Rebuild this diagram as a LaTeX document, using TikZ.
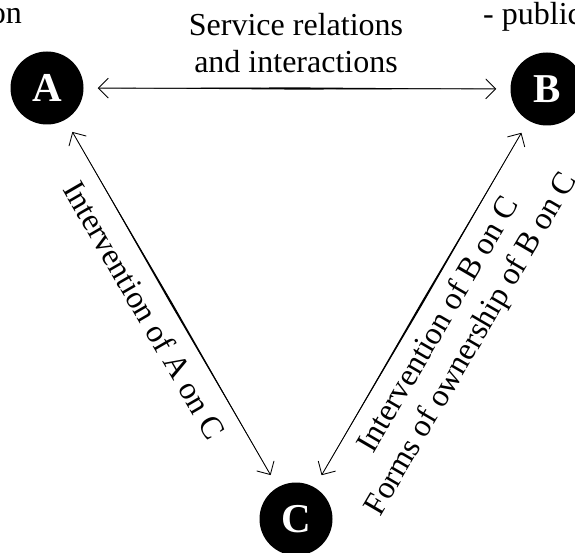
\documentclass[tikz,border=0pt]{standalone}
\usepackage{fontspec}
\setmainfont{Liberation Serif}
\usetikzlibrary{arrows.meta,calc}

% thin lens-shaped fill that thickens the middle of a connector
\newcommand\taperlink[2]{%
  \coordinate (#1#2m) at ($(#1)!0.5!(#2)$);
  \fill ($(#1)!56pt!(#2)$) -- ($(#1#2m)!1.1pt!90:(#2)$) --
        ($(#2)!56pt!(#1)$) -- ($(#1#2m)!1.1pt!-90:(#2)$) -- cycle;}

\begin{document}
\begin{tikzpicture}[x=1pt,y=1pt,
  party/.style={circle,fill=black,minimum size=73pt,inner sep=0pt,text=white,
    font=\fontsize{41}{41}\selectfont\bfseries},
  link/.style={line width=0.85pt,
    {Straight Barb[length=10pt,width=20pt]}-{Straight Barb[length=10pt,width=20pt]},
    shorten <=14pt,shorten >=14pt},
  lbl/.style={font=\fontsize{32}{37.5}\selectfont,inner sep=0pt,align=center}]
\useasboundingbox (0,0) rectangle (575,-553);
\clip (0,0) rectangle (575,-553);

% the three parties
\node[party] (A) at (47,-88) {A};
\node[party] (B) at (547,-89) {B};
\node[party] (C) at (296,-519) {C};

% relations between them
\draw[link] (A) -- (B);
\draw[link] (A) -- (C);
\draw[link] (B) -- (C);
\taperlink{A}{B}
\taperlink{A}{C}
\taperlink{B}{C}

% labels
\node[lbl,anchor=north] (ab) at (296,-13) {Service relations\\and interactions};
\node[lbl,rotate=-60] (ac) at (145,-310) {Intervention of A on C};
\node[lbl,rotate=59.7] (bc) at (456,-335)
  {Intervention of B on C\\Forms of ownership of B on C};

% headings of the outer labels
\node[lbl,anchor=base east] (la) at (22,-24) {on};
\node[lbl,anchor=base west] (lb) at (483,-25) {- public};
\end{tikzpicture}
\end{document}
